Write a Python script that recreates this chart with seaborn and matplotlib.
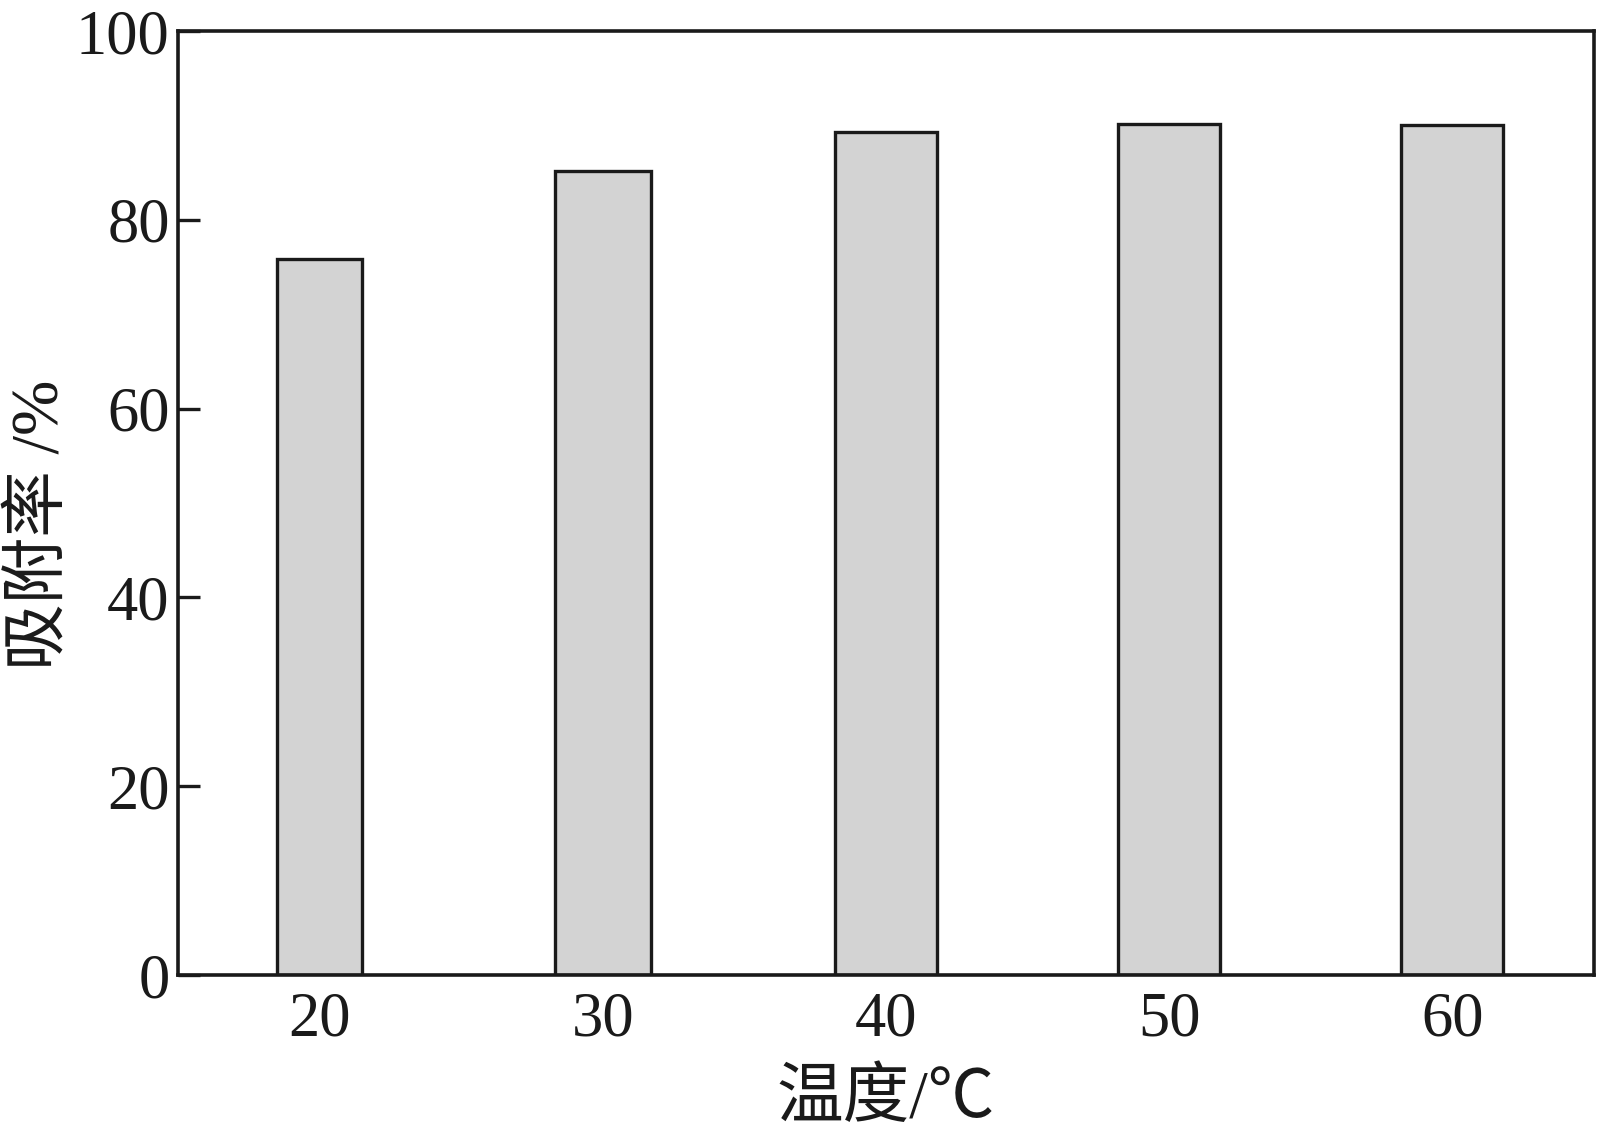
import pandas as pd
import numpy as np
import matplotlib.pyplot as plt
import seaborn as sns

# 数据
temperature = [20, 30, 40, 50, 60]
adsorption = [75.8, 85.2, 89.3, 90.2, 90.0]
bar_widths = [3.0, 3.4, 3.6, 3.6, 3.6]

df = pd.DataFrame({"温度": temperature, "吸附率": adsorption})

sns.set_style("ticks")
plt.rcParams['font.family'] = ['Liberation Serif', 'Noto Sans CJK SC']
plt.rcParams['axes.unicode_minus'] = False
plt.rcParams['text.color'] = '#1a1a1a'
plt.rcParams['axes.labelcolor'] = '#1a1a1a'
plt.rcParams['xtick.color'] = '#1a1a1a'
plt.rcParams['ytick.color'] = '#1a1a1a'

fig = plt.figure(figsize=(15.98, 11.28), dpi=100)
ax = fig.add_axes([0.1114, 0.1356, 0.8861, 0.8369])

sns.barplot(data=df, x="温度", y="吸附率", native_scale=True, width=3.4,
            color="#d3d3d3", edgecolor="#1a1a1a", linewidth=2.4,
            saturation=1, ax=ax)

# 每根柱子宽度略有不同
for patch, w, t in zip(ax.patches, bar_widths, temperature):
    patch.set_width(w)
    patch.set_x(t - w / 2)

ax.set_xlim(15, 65)
ax.set_ylim(0, 100)
ax.set_xticks(temperature)
ax.set_yticks(range(0, 101, 20))

for side in ["top", "right", "left", "bottom"]:
    ax.spines[side].set_visible(True)
    ax.spines[side].set_linewidth(2.6)
    ax.spines[side].set_color("#1a1a1a")

ax.tick_params(axis="x", direction="in", length=13, width=2.4,
               labelsize=45, pad=12)
ax.tick_params(axis="y", direction="in", length=16, width=2.4,
               labelsize=45, pad=6)

ax.set_xlabel("温度/℃", fontsize=48, labelpad=14)
ax.set_ylabel("吸附率 /%", fontsize=48)
ax.yaxis.set_label_coords(-0.075, 0.477)

fig.savefig("out.png", dpi=100)
